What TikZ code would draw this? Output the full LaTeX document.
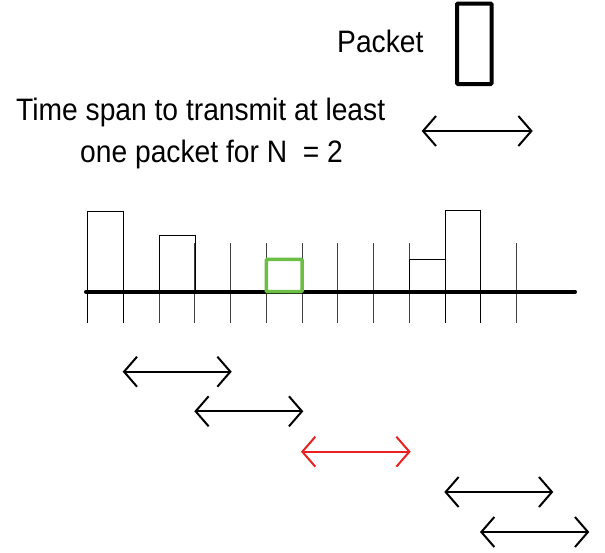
\documentclass[tikz,border=0pt]{standalone}
\usepackage{fontspec}
\setmainfont{Liberation Sans}[FakeStretch=0.91]
\usetikzlibrary{arrows.meta}
\definecolor{slotgreen}{RGB}{108,190,69}
\definecolor{spanred}{RGB}{232,32,32}
\tikzset{x=1pt, y=-1pt,
label text/.style={ % Sets the look of all labels
inner sep=0pt,
font=\fontsize{31}{36}\selectfont},
tick/.style={ % thin slot separators
draw=black!75,
line width=1pt},
bar/.style={ % packets queued in a slot
draw=black,
line width=1pt},
span/.style={ % double headed time spans
draw,
line width=2pt,
{Straight Barb[length=13pt,width=30pt]}-{Straight Barb[length=13pt,width=30pt]}}}

\begin{document}
\begin{tikzpicture}
\useasboundingbox (0,0) rectangle (605,552);
% legend
\node[label text, anchor=base west] (packet) at (337,52.7) {Packet};
\draw[line width=4pt, rounded corners=1pt] (457,3.5) rectangle (491.5,84);
\node[label text, anchor=base west] (span1) at (16,120) {Time span to transmit at least};
\node[label text, anchor=base west] (span2) at (80,162) {one packet for N\ \ = 2};
\coordinate (leg a) at (421.7,131);
\coordinate (leg b) at (532.7,131);
\draw[span] (leg a) -- (leg b);
% slots
\foreach \i in {0,...,12}
  \draw[tick] (87.5+35.75*\i,243) -- (87.5+35.75*\i,323);
\draw[bar] (87.5,291.7) |- (123.3,211) -- (123.3,323);
\draw[bar] (87.5,211) -- (87.5,323);
\draw[bar] (159,291.7) rectangle (195,235.3);
\draw[bar] (409,291.7) rectangle (445,259.3);
\draw[bar] (445,291.7) rectangle (480.7,210.3);
\draw[bar] (445,291.7) -- (445,323);
\draw[bar] (480.7,291.7) -- (480.7,323);
\draw[line width=4pt, line cap=round] (86,291.7) -- (575,291.7);
\draw[slotgreen, line width=3.5pt, rounded corners=1pt] (266.3,259.3) rectangle (302,291.7);
% time spans
\foreach \n/\xa/\xb/\y in {1/122.7/231.7/371.7, 2/194.3/303.3/411.3, 4/444.3/553.3/492, 5/480/589.3/532}{
  \coordinate (s\n a) at (\xa,\y);
  \coordinate (s\n b) at (\xb,\y);
  \draw[span] (s\n a) -- (s\n b);
}
\coordinate (s3a) at (301,451.7);
\coordinate (s3b) at (410.7,451.7);
\draw[span, spanred] (s3a) -- (s3b);
\end{tikzpicture}
\end{document}
